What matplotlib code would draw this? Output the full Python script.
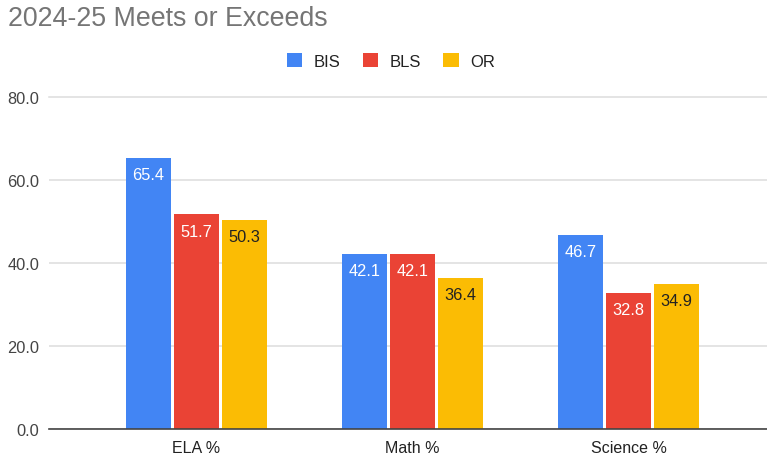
import matplotlib.pyplot as plt
import numpy as np

plt.rcParams['font.family'] = ['Liberation Sans', 'DejaVu Sans']

# data
subjects = ['ELA %', 'Math %', 'Science %']
series = ['BIS', 'BLS', 'OR']
bis = [65.4, 42.1, 46.7]
bls = [51.7, 42.1, 32.8]
orr = [50.3, 36.4, 34.9]
colors = ['#4285F4', '#EA4335', '#FBBC04']
label_colors = ['#ffffff', '#ffffff', '#222222']
yticks = [0, 20, 40, 60, 80]

fig = plt.figure(figsize=(7.67, 4.56), dpi=100)
ax = fig.add_axes([49 / 767, 1 - 430 / 456, 1 - 49 / 767, (430 - 98) / 456])

x = np.arange(len(subjects))
width = 0.208
gap = 0.014
for i, (name, vals) in enumerate(zip(series, [bis, bls, orr])):
    pos = x + (i - 1) * (width + gap)
    bars = ax.bar(pos, vals, width, color=colors[i], label=name, zorder=3)
    for b, v in zip(bars, vals):
        ax.annotate(f'{v:.1f}', (b.get_x() + b.get_width() / 2, v),
                    xytext=(0, -12), textcoords='offset points',
                    ha='center', va='center', fontsize=11.8,
                    color=label_colors[i], zorder=4)

ax.set_xlim(-0.68, 2.64)
ax.set_ylim(0, 80)
ax.set_yticks(yticks)
ax.set_yticklabels([f'{t:.1f}' for t in yticks])
ax.set_xticks(x)
ax.set_xticklabels(subjects)
ax.tick_params(axis='y', length=0, pad=7, labelsize=11.8, labelcolor='#444444')
ax.tick_params(axis='x', length=0, pad=8, labelsize=11.5, labelcolor='#222222')

ax.grid(axis='y', color='#dddddd', lw=1.1, zorder=0)
ax.get_ygridlines()[-1].set_clip_on(False)
for s in ['top', 'right', 'left']:
    ax.spines[s].set_visible(False)
ax.spines['bottom'].set_color('#444444')
ax.spines['bottom'].set_linewidth(1.2)
ax.spines['bottom'].set_zorder(5)

fig.text(8 / 767, 1 - 19 / 456, '2024-25 Meets or Exceeds', fontsize=19.3,
         color='#757575', va='center', ha='left')

fig.legend(loc='center', bbox_to_anchor=(391 / 767, 1 - 62 / 456), ncol=3,
           frameon=False, fontsize=12, handlelength=0.95, handleheight=0.95,
           columnspacing=1.3, handletextpad=0.7, labelcolor='#222222')

fig.savefig('out.png', dpi=100)
